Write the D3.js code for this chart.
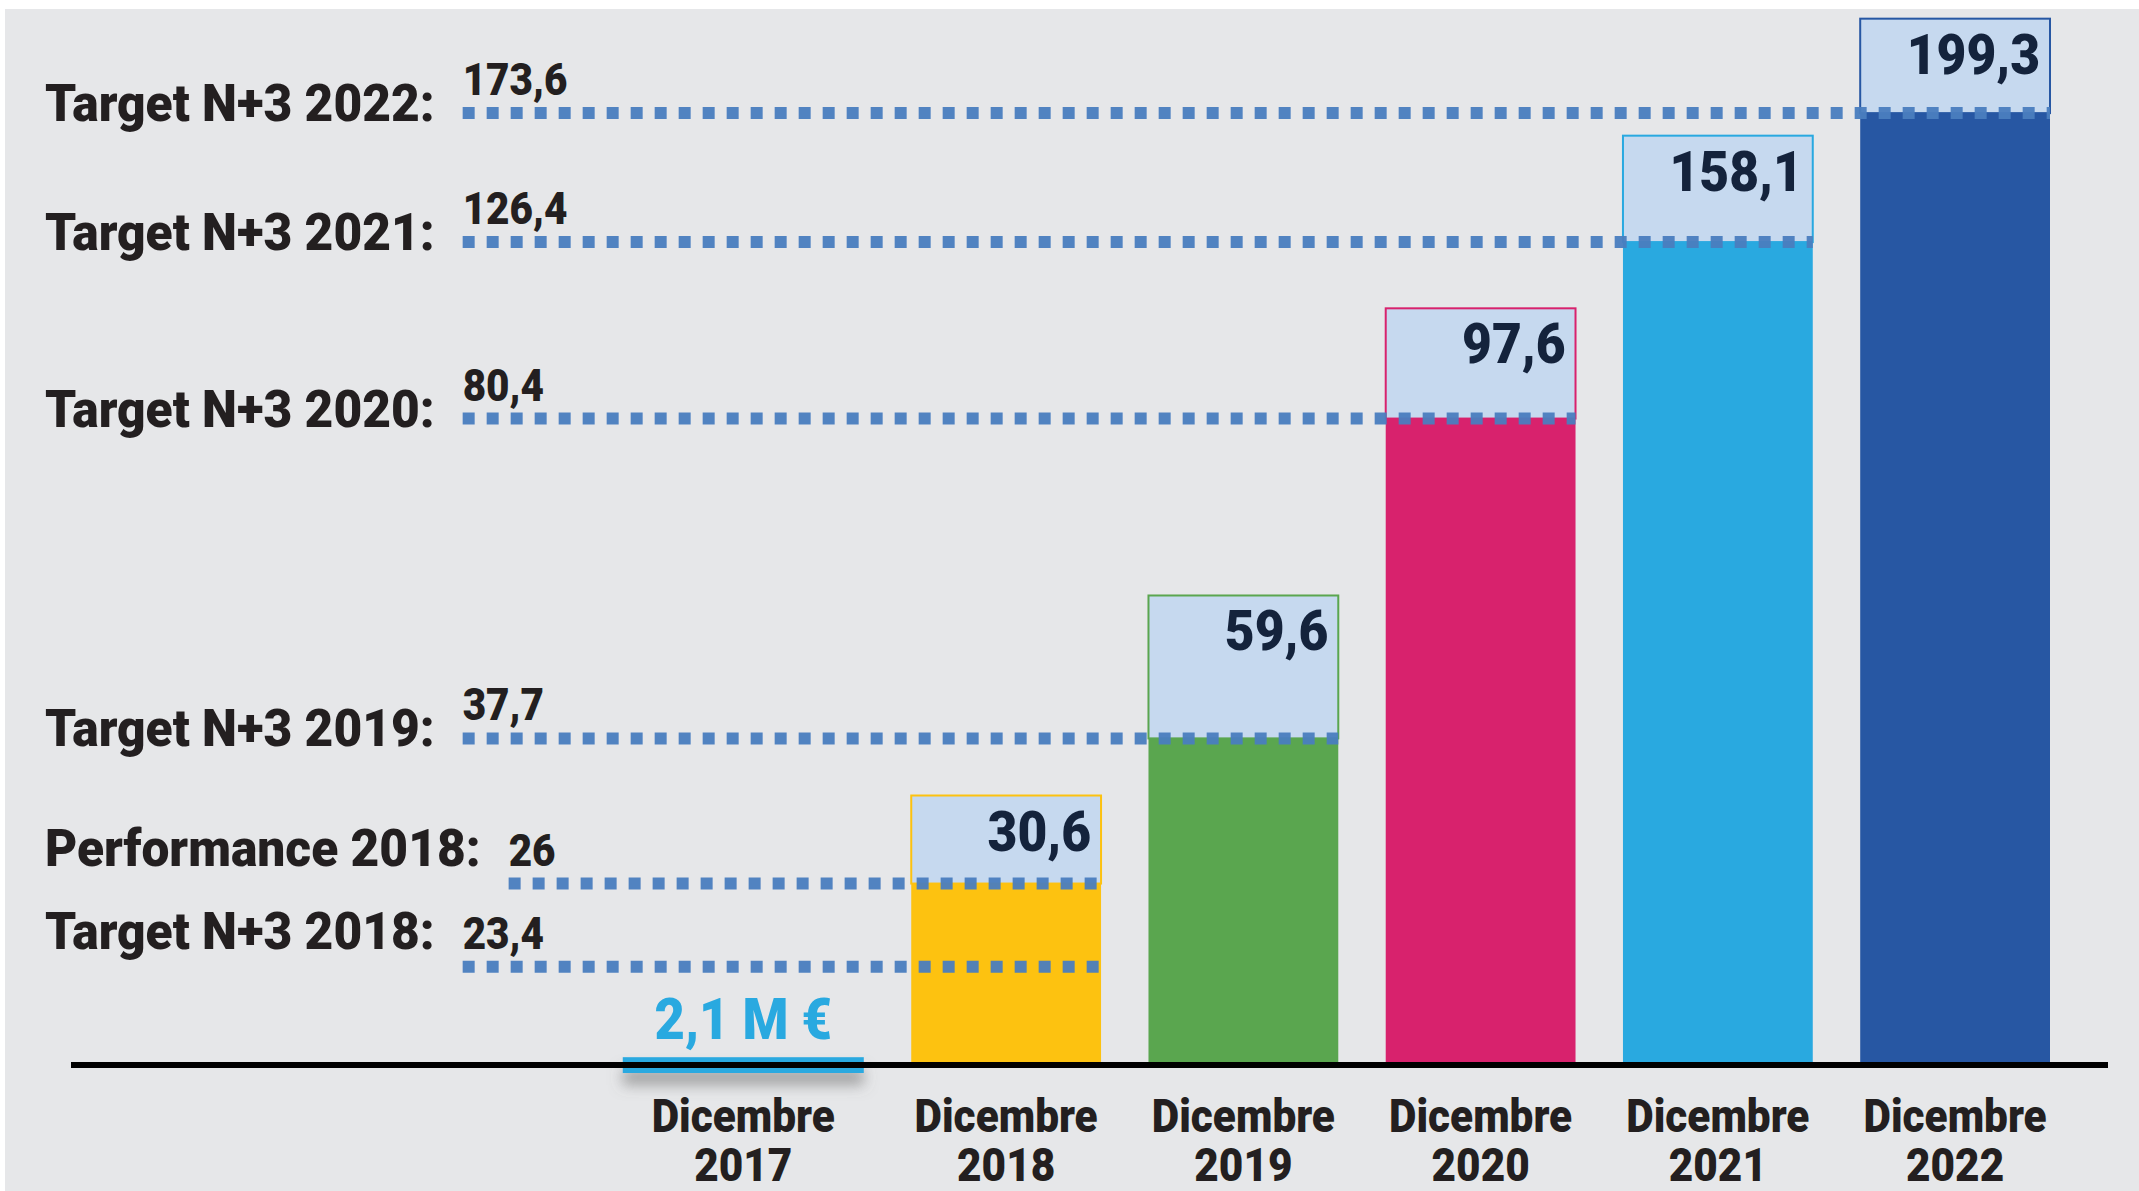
<!DOCTYPE html>
<html>
<head>
<meta charset="utf-8">
<script src="https://cdn.jsdelivr.net/npm/d3@7"></script>
<style>
  body { margin: 0; background: #fff; }
  svg text { font-family: Roboto, "Liberation Sans", sans-serif; font-weight: 900; }
</style>
</head>
<body>
<div id="chart"></div>
<script>
const width = 2139;
const height = 1191;

const years = ["2017", "2018", "2019", "2020", "2021", "2022"];
const results = [2.1, 30.6, 59.6, 97.6, 158.1, 199.3];
const reached = [null, 26, 37.7, 80.4, 126.4, 173.6];
const barColors = ["#29a9e0", "#fdc210", "#5aa64f", "#d8226d", "#29a9e0", "#2757a3"];

const refLabels = ["Target N+3 2022:", "Target N+3 2021:", "Target N+3 2020:", "Target N+3 2019:", "Performance 2018:", "Target N+3 2018:"];
const refValues = [173.6, 126.4, 80.4, 37.7, 26, 23.4];
const refYears = ["2022", "2021", "2020", "2019", "2018", "2018"];

const it = d3.formatLocale({ decimal: ",", thousands: ".", grouping: [3], currency: ["", " €"] });
const fmt = it.format(".1~f");

const baseY = 1065;
const topY = 16;
const k = 0.92; // condensing factor for the narrow typeface

const svg = d3.select("#chart")
    .append("svg")
    .attr("width", width)
    .attr("height", height);

const defs = svg.append("defs");
const shadow = defs.append("filter")
    .attr("id", "shadow")
    .attr("x", "-20%").attr("y", "-100%")
    .attr("width", "140%").attr("height", "500%");
shadow.append("feDropShadow")
    .attr("dx", 0).attr("dy", 12)
    .attr("stdDeviation", 7)
    .attr("flood-color", "#666")
    .attr("flood-opacity", 0.55);

svg.append("rect")
    .attr("x", 5).attr("y", 9)
    .attr("width", width - 5).attr("height", height - 9)
    .attr("fill", "#e6e7e9");

// the original is not drawn to scale: a piecewise scale follows its spacing
const yFrac = d3.scaleLinear()
    .domain([0, 23, 27, 30, 40, 60, 80, 100, 125, 160, 175, 200])
    .range([0, .0814, .2035, .2523, .329, .45, .6138, .736, .780, .892, .909, 1]);
const y = v => baseY - yFrac(v) * (baseY - topY);

const x = d3.scaleBand()
    .domain(years)
    .range([674, 2050])
    .paddingInner(0.2);
const bw = x.bandwidth();
const firstShift = -0.27 * bw;

const bars = years.map((yr, i) => ({ year: yr, value: results[i], reached: reached[i], color: barColors[i] }));

// 2017 marker
const first = bars[0];
svg.append("rect")
    .attr("x", x(first.year) + firstShift)
    .attr("y", y(first.value))
    .attr("width", bw - firstShift)
    .attr("height", baseY + 8 - y(first.value))
    .attr("fill", first.color)
    .attr("filter", "url(#shadow)");

const rest = bars.slice(1);

// coloured part
svg.selectAll("rect.bar")
    .data(rest)
    .enter()
    .append("rect")
    .attr("class", "bar")
    .attr("x", d => x(d.year))
    .attr("y", d => y(d.reached))
    .attr("width", bw)
    .attr("height", d => baseY + 3 - y(d.reached))
    .attr("fill", d => d.color);

// light box up to the result
svg.selectAll("rect.box")
    .data(rest)
    .enter()
    .append("rect")
    .attr("class", "box")
    .attr("x", d => x(d.year))
    .attr("y", d => y(d.value))
    .attr("width", bw)
    .attr("height", d => y(d.reached) - y(d.value))
    .attr("fill", "#c6d9ef")
    .attr("stroke", d => d.color)
    .attr("stroke-width", 2);

// reference rows
const refs = refLabels.map((l, i) => ({ label: l, value: refValues[i], year: refYears[i] }));

const labelX = 45;
const labels = svg.selectAll("text.ref-label")
    .data(refs)
    .enter()
    .append("text")
    .attr("class", "ref-label")
    .attr("x", labelX)
    .attr("y", (d, i) => {
        const ly = y(d.value);
        const prev = i > 0 ? y(refs[i - 1].value) : -1e9;
        const next = i < refs.length - 1 ? y(refs[i + 1].value) : 1e9;
        const crowded = Math.min(ly - prev, next - ly) < 120;
        return crowded ? ly - 18 : ly + 8;
    })
    .attr("font-size", 52)
    .attr("fill", "#231f20")
    .text(d => d.label);

squeeze(labels, 0.955);

labels.each(function(d) {
    d.lineStart = labelX + this.getBBox().width + 28;
});

svg.selectAll("line.ref")
    .data(refs)
    .enter()
    .append("line")
    .attr("class", "ref")
    .attr("x1", d => d.lineStart)
    .attr("x2", d => x(d.year) + bw)
    .attr("y1", d => y(d.value))
    .attr("y2", d => y(d.value))
    .attr("stroke", "#4a7ebf")
    .attr("stroke-width", 12)
    .attr("stroke-dasharray", "12,12")
    .attr("opacity", 0.95);

const refVals = svg.selectAll("text.ref-value")
    .data(refs)
    .enter()
    .append("text")
    .attr("class", "ref-value")
    .attr("x", d => d.lineStart)
    .attr("y", d => y(d.value) - 18)
    .attr("font-size", 44)
    .attr("fill", "#231f20")
    .text(d => fmt(d.value));
squeeze(refVals, k);

// value inside the boxes
const boxVals = svg.selectAll("text.box-value")
    .data(rest)
    .enter()
    .append("text")
    .attr("class", "box-value")
    .attr("x", d => x(d.year) + bw - 10)
    .attr("y", d => y(d.value) + 55)
    .attr("text-anchor", "end")
    .attr("font-size", 56)
    .attr("fill", "#14233c")
    .text(d => fmt(d.value));
squeeze(boxVals, k);

// 2017 amount
const firstVal = svg.append("text")
    .attr("x", x(first.year) + firstShift / 2 + bw / 2)
    .attr("y", y(first.value) - 18)
    .attr("text-anchor", "middle")
    .attr("font-size", 57)
    .attr("fill", "#29a9e0")
    .text(fmt(first.value) + " M €");
squeeze(firstVal, k);

// baseline
svg.append("line")
    .attr("x1", 71).attr("x2", 2108)
    .attr("y1", baseY).attr("y2", baseY)
    .attr("stroke", "#000")
    .attr("stroke-width", 6);

// x axis
const xAxis = d3.axisBottom(x).tickSize(0).tickFormat(d => d);
const axis = svg.append("g")
    .attr("transform", `translate(0, ${baseY})`)
    .call(xAxis);
axis.select(".domain").remove();
axis.attr("font-family", null).attr("font-size", null);
axis.selectAll(".tick")
    .attr("transform", d => `translate(${x(d) + bw / 2 + (d === years[0] ? firstShift / 2 : 0)}, 0)`);
axis.selectAll(".tick text").each(function(d) {
    const t = d3.select(this).text(null).attr("y", null).attr("dy", null)
        .attr("font-size", 46).attr("fill", "#231f20");
    t.append("tspan").attr("x", 0).attr("y", 67).text("Dicembre");
    t.append("tspan").attr("x", 0).attr("y", 116).text(d);
});
squeeze(axis.selectAll(".tick tspan"), k);

function squeeze(sel, f) {
    sel.each(function() {
        const w = this.getComputedTextLength();
        d3.select(this)
            .attr("textLength", w * f)
            .attr("lengthAdjust", "spacingAndGlyphs");
    });
}
</script>
</body>
</html>
